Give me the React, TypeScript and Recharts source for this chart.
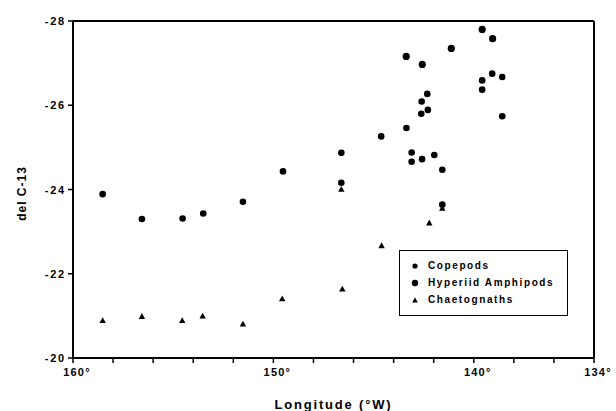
import React from 'react';
import { ScatterChart, Scatter, XAxis, YAxis, ReferenceLine, Legend } from 'recharts';

// Longitude (°W) and del C-13 values
const copepodLon = [158.52, 156.56, 154.53, 153.5, 151.52, 149.52, 146.61, 146.61, 144.62, 143.36, 143.1, 143.1, 142.58, 141.97, 141.57, 141.57, 142.32, 142.6, 142.29, 142.62, 139.58, 139.58, 139.08, 138.58, 138.58];
const copepodDel = [-23.89, -23.3, -23.31, -23.43, -23.71, -24.43, -24.87, -24.16, -25.26, -25.46, -24.88, -24.66, -24.72, -24.82, -24.47, -23.64, -26.27, -26.09, -25.89, -25.8, -26.59, -26.37, -26.75, -26.67, -25.74];

const amphipodLon = [143.37, 142.57, 141.12, 139.58, 139.06];
const amphipodDel = [-27.16, -26.97, -27.35, -27.8, -27.58];

const chaetoLon = [158.52, 156.56, 154.55, 153.53, 151.52, 149.56, 146.56, 146.61, 144.6, 142.22, 141.57];
const chaetoDel = [-20.89, -20.99, -20.89, -21.0, -20.81, -21.41, -21.64, -24.01, -22.67, -23.21, -23.56];

const xTicks = [160, 158, 156, 154, 152, 150, 148, 146, 144, 142, 140, 138, 136, 134];
const xTickLabels: Record<number, string> = { 160: '160°', 150: '150°', 140: '140°', 134: '134°' };
const yTicks = [-28, -26, -24, -22, -20];

const seriesNames = ['Copepods', 'Hyperiid Amphipods', 'Chaetognaths'];

const toPoints = (lon: number[], del: number[]) => lon.map((x, i) => ({ lon: x, del: del[i] }));
const copepodData = toPoints(copepodLon, copepodDel);
const amphipodData = toPoints(amphipodLon, amphipodDel);
const chaetoData = toPoints(chaetoLon, chaetoDel);

const FONT = '"Liberation Sans", Arial, sans-serif';

const CopepodDot = (p: any) => <circle cx={p.cx} cy={p.cy} r={3.3} fill="#000" />;
const AmphipodDot = (p: any) => <circle cx={p.cx} cy={p.cy} r={3.6} fill="#000" />;
const Triangle = (p: any) => (
  <path d={`M${p.cx},${p.cy - 3.2} L${p.cx + 3.2},${p.cy + 2.6} L${p.cx - 3.2},${p.cy + 2.6} Z`} fill="#000" />
);

const XTick = (props: any) => {
  const { x, y, payload } = props;
  const label = xTickLabels[payload.value];
  if (!label) return <g />;
  return (
    <text x={x + 4} y={y} dy={11} textAnchor="middle" fill="#000"
      style={{ fontFamily: FONT, fontWeight: 700, fontSize: 11, letterSpacing: '1.2px' }}>
      {label}
    </text>
  );
};

const YTick = (props: any) => {
  const { x, y, payload } = props;
  return (
    <text x={x} y={y} dy={4} textAnchor="end" fill="#000"
      style={{ fontFamily: FONT, fontWeight: 700, fontSize: 11, letterSpacing: '1.8px' }}>
      {String(payload.value)}
    </text>
  );
};

const XLabel = (props: any) => {
  const vb = props.viewBox || {};
  return (
    <text x={vb.x + vb.width / 2} y={409} textAnchor="middle" fill="#000"
      style={{ fontFamily: FONT, fontWeight: 700, fontSize: 13, letterSpacing: '1.8px' }}>
      Longitude (°W)
    </text>
  );
};

const YLabel = (props: any) => {
  const vb = props.viewBox || {};
  const cx = 22;
  const cy = vb.y + vb.height / 2 + 4;
  return (
    <text x={cx} y={cy} textAnchor="middle" dominantBaseline="central" fill="#000"
      transform={`rotate(-90, ${cx}, ${cy})`}
      style={{ fontFamily: FONT, fontWeight: 700, fontSize: 12, letterSpacing: '1px' }}>
      del C-13
    </text>
  );
};

const LegendMarker = ({ kind }: { kind: number }) => (
  <svg width={14} height={10} style={{ marginRight: 6, flex: 'none' }}>
    {kind === 0 && <circle cx={7} cy={5} r={2.6} fill="#000" />}
    {kind === 1 && <circle cx={7} cy={5} r={3.2} fill="#000" />}
    {kind === 2 && <path d="M7,2.2 L9.8,7.4 L4.2,7.4 Z" fill="#000" />}
  </svg>
);

const LegendBox = () => (
  <div style={{
    border: '1.6px solid #000', width: 169, height: 66, boxSizing: 'border-box',
    padding: '6px 0 0 8px', fontFamily: FONT, fontWeight: 700, fontSize: 10,
    letterSpacing: '1.6px', color: '#000', background: '#fff',
  }}>
    {seriesNames.map((n, i) => (
      <div key={n} style={{ height: 17, display: 'flex', alignItems: 'center', whiteSpace: 'nowrap' }}>
        <LegendMarker kind={i} />
        <span>{n}</span>
      </div>
    ))}
  </div>
);

export default function App() {
  return (
    <div style={{ position: 'absolute', left: 0, top: 0, background: '#fff' }}>
      <ScatterChart width={616} height={411} margin={{ top: 21, right: 22, bottom: 0, left: 0 }}>
        <XAxis
          type="number" dataKey="lon" domain={[134, 160]} reversed ticks={xTicks} interval={0}
          height={53} tickSize={5} tickMargin={2} axisLine={{ stroke: '#000', strokeWidth: 2 }}
          tickLine={{ stroke: '#000', strokeWidth: 1.5 }} tick={<XTick />} label={<XLabel />}
          allowDataOverflow
        />
        <YAxis
          type="number" dataKey="del" domain={[-28, -20]} reversed ticks={yTicks} interval={0}
          width={73} tickSize={5} tickMargin={2} axisLine={{ stroke: '#000', strokeWidth: 2 }}
          tickLine={{ stroke: '#000', strokeWidth: 1.5 }} tick={<YTick />} label={<YLabel />}
          allowDataOverflow
        />
        <ReferenceLine y={-28} stroke="#000" strokeWidth={2} />
        <ReferenceLine x={134} stroke="#000" strokeWidth={2} />
        <Scatter name={seriesNames[0]} data={copepodData} shape={CopepodDot} isAnimationActive={false} />
        <Scatter name={seriesNames[1]} data={amphipodData} shape={AmphipodDot} isAnimationActive={false} />
        <Scatter name={seriesNames[2]} data={chaetoData} shape={Triangle} isAnimationActive={false} />
        <Legend
          layout="vertical" align="center" verticalAlign="middle"
          wrapperStyle={{ left: 399, top: 250, width: 169, height: 66 }}
          content={() => <LegendBox />}
        />
      </ScatterChart>
    </div>
  );
}
